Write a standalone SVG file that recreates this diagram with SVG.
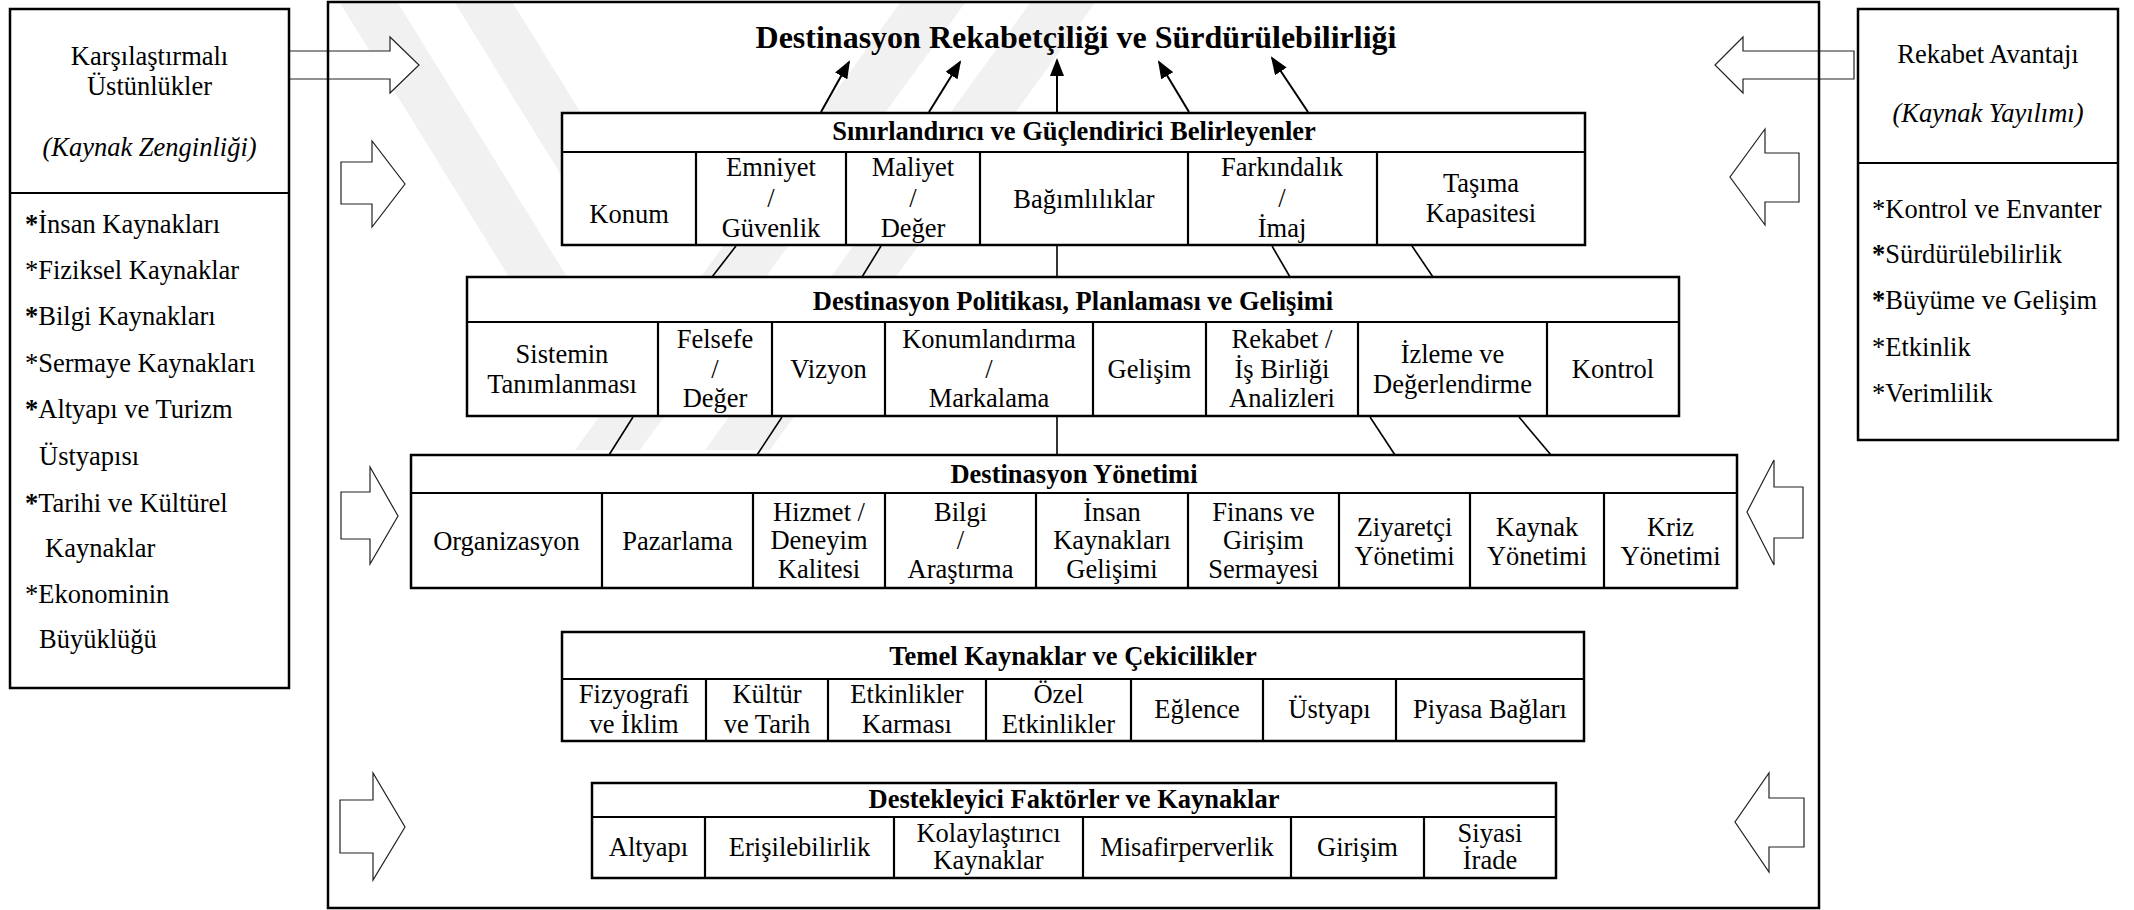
<svg xmlns="http://www.w3.org/2000/svg" width="2134" height="910" viewBox="0 0 2134 910" font-family="'Liberation Serif', 'Times New Roman', serif">
  <style>
    text { font-family: "Liberation Serif", "Times New Roman", serif; font-size: 26.5px; fill: #000; }
    .c { text-anchor: middle; }
    .b { font-weight: bold; }
    .i { font-style: italic; }
    .title { font-size: 32px; font-weight: bold; text-anchor: middle; }
    .frame { fill: #fff; stroke: #000; stroke-width: 2.5; }
    .div { stroke: #000; stroke-width: 2.2; fill: none; }
    .link { stroke: #000; stroke-width: 1.6; fill: none; }
    .up { stroke: #000; stroke-width: 2; fill: none; marker-end: url(#head); }
    .blk { fill: #fff; stroke: #222; stroke-width: 1.2; stroke-linejoin: miter; }
    .mark { fill: #f1f1f1; }
  </style>
  <defs>
    <marker id="head" markerWidth="18" markerHeight="14" refX="16" refY="7" orient="auto" markerUnits="userSpaceOnUse" viewBox="0 0 18 14">
      <path d="M0,0 L18,7 L0,14 z" fill="#000"/>
    </marker>
  </defs>

  <rect width="2134" height="910" fill="#fff"/>

  <!-- faint background emblem stripes -->
  <g id="emblem">
    <polygon class="mark" points="340,3 398,3 575,290 517,290"/>
    <polygon class="mark" points="455,3 513,3 650,225 592,225"/>
    <polygon class="mark" points="900,3 965,3 640,450 575,450"/>
    <polygon class="mark" points="1030,3 1095,3 770,450 705,450"/>
  </g>

  <!-- block arrows from the side panels -->
  <g id="side-arrows">
    <polygon class="blk" points="287,51 390,51 390,37 419,65 390,93 390,79 287,79"/>
    <polygon class="blk" points="341,162 372,162 372,141 405,184 372,227 372,204 341,204"/>
    <polygon class="blk" points="341,492 370,492 370,467 398,516 370,564 370,539 341,539"/>
    <polygon class="blk" points="340,800 373,800 373,773 405,827 373,880 373,853 340,853"/>
    <polygon class="blk" points="1854,51 1743,51 1743,37 1715,65 1743,93 1743,79 1854,79"/>
    <polygon class="blk" points="1799,153 1765,153 1765,129 1730,177 1765,225 1765,202 1799,202"/>
    <polygon class="blk" points="1803,487 1774,487 1774,460 1747,512 1774,565 1774,538 1803,538"/>
    <polygon class="blk" points="1804,798 1769,798 1769,773 1735,822 1769,872 1769,847 1804,847"/>
  </g>

  <!-- main frame -->
  <g id="frame">
    <rect x="328" y="2" width="1491" height="906" fill="none" stroke="#000" stroke-width="2.5"/>
    <text class="title" x="1076" y="48">Destinasyon Rekabetçiliği ve Sürdürülebilirliği</text>
  </g>

  <!-- left panel -->
  <g id="comparative-advantages">
    <rect class="frame" x="10" y="9" width="279" height="679"/>
    <line class="div" x1="10" y1="193" x2="289" y2="193"/>
    <text class="c" x="149.5" y="65">Karşılaştırmalı</text>
    <text class="c" x="149.5" y="95">Üstünlükler</text>
    <text class="c i" x="149.5" y="156">(Kaynak Zenginliği)</text>
    <text x="25" y="233"><tspan class="b">*</tspan>İnsan Kaynakları</text>
    <text x="25" y="279">*Fiziksel Kaynaklar</text>
    <text x="25" y="325"><tspan class="b">*</tspan>Bilgi Kaynakları</text>
    <text x="25" y="372">*Sermaye Kaynakları</text>
    <text x="25" y="418"><tspan class="b">*</tspan>Altyapı ve Turizm</text>
    <text x="39" y="465">Üstyapısı</text>
    <text x="25" y="512"><tspan class="b">*</tspan>Tarihi ve Kültürel</text>
    <text x="45" y="557">Kaynaklar</text>
    <text x="25" y="603">*Ekonominin</text>
    <text x="39" y="648">Büyüklüğü</text>
  </g>

  <!-- right panel -->
  <g id="competitive-advantage">
    <rect class="frame" x="1858" y="9" width="260" height="431"/>
    <line class="div" x1="1858" y1="163" x2="2118" y2="163"/>
    <text class="c" x="1988" y="63">Rekabet Avantajı</text>
    <text class="c i" x="1988" y="122">(Kaynak Yayılımı)</text>
    <text x="1872" y="218">*Kontrol ve Envanter</text>
    <text x="1872" y="263"><tspan class="b">*</tspan>Sürdürülebilirlik</text>
    <text x="1872" y="309"><tspan class="b">*</tspan>Büyüme ve Gelişim</text>
    <text x="1872" y="356">*Etkinlik</text>
    <text x="1872" y="402">*Verimlilik</text>
  </g>

  <!-- connectors -->
  <g id="connectors">
    <line class="up" x1="821" y1="112" x2="849" y2="62"/>
    <line class="up" x1="929" y1="112" x2="960" y2="62"/>
    <line class="up" x1="1057" y1="112" x2="1057" y2="60"/>
    <line class="up" x1="1189" y1="112" x2="1159" y2="62"/>
    <line class="up" x1="1308" y1="112" x2="1272" y2="58"/>

    <line class="link" x1="736" y1="246" x2="712" y2="277"/>
    <line class="link" x1="881" y1="246" x2="862" y2="277"/>
    <line class="link" x1="1057" y1="246" x2="1057" y2="277"/>
    <line class="link" x1="1272" y1="246" x2="1290" y2="277"/>
    <line class="link" x1="1412" y1="246" x2="1433" y2="277"/>

    <line class="link" x1="633" y1="417" x2="609" y2="455"/>
    <line class="link" x1="782" y1="417" x2="757" y2="455"/>
    <line class="link" x1="1057" y1="417" x2="1057" y2="455"/>
    <line class="link" x1="1370" y1="417" x2="1395" y2="455"/>
    <line class="link" x1="1519" y1="417" x2="1551" y2="455"/>
  </g>

  <!-- limiting and amplifying determinants -->
  <g id="determinants">
    <rect class="frame" x="562" y="113" width="1023" height="132"/>
    <path class="div" d="M562,152 H1585 M696,152 V245 M846,152 V245 M980,152 V245 M1188,152 V245 M1377,152 V245"/>
    <text class="c b" x="1074" y="140">Sınırlandırıcı ve Güçlendirici Belirleyenler</text>
    <text class="c" x="629" y="223">Konum</text>
    <text class="c" x="771" y="176">Emniyet</text>
    <text class="c" x="771" y="207">/</text>
    <text class="c" x="771" y="237">Güvenlik</text>
    <text class="c" x="913" y="176">Maliyet</text>
    <text class="c" x="913" y="207">/</text>
    <text class="c" x="913" y="237">Değer</text>
    <text class="c" x="1084" y="208">Bağımlılıklar</text>
    <text class="c" x="1282" y="176">Farkındalık</text>
    <text class="c" x="1282" y="207">/</text>
    <text class="c" x="1282" y="237">İmaj</text>
    <text class="c" x="1481" y="192">Taşıma</text>
    <text class="c" x="1481" y="222">Kapasitesi</text>
  </g>

  <!-- destination policy, planning and development -->
  <g id="policy">
    <rect class="frame" x="467" y="277" width="1212" height="139"/>
    <path class="div" d="M467,322 H1679 M658,322 V416 M772,322 V416 M885,322 V416 M1093,322 V416 M1206,322 V416 M1358,322 V416 M1547,322 V416"/>
    <text class="c b" x="1073" y="310">Destinasyon Politikası, Planlaması ve Gelişimi</text>
    <text class="c" x="562" y="363">Sistemin</text>
    <text class="c" x="562" y="393">Tanımlanması</text>
    <text class="c" x="715" y="348">Felsefe</text>
    <text class="c" x="715" y="378">/</text>
    <text class="c" x="715" y="407">Değer</text>
    <text class="c" x="828.5" y="378">Vizyon</text>
    <text class="c" x="989" y="348">Konumlandırma</text>
    <text class="c" x="989" y="378">/</text>
    <text class="c" x="989" y="407">Markalama</text>
    <text class="c" x="1149.5" y="378">Gelişim</text>
    <text class="c" x="1282" y="348">Rekabet /</text>
    <text class="c" x="1282" y="378">İş Birliği</text>
    <text class="c" x="1282" y="407">Analizleri</text>
    <text class="c" x="1452.5" y="363">İzleme ve</text>
    <text class="c" x="1452.5" y="393">Değerlendirme</text>
    <text class="c" x="1613" y="378">Kontrol</text>
  </g>

  <!-- destination management -->
  <g id="management">
    <rect class="frame" x="411" y="455" width="1326" height="133"/>
    <path class="div" d="M411,493 H1737 M602,493 V588 M753,493 V588 M885,493 V588 M1036,493 V588 M1188,493 V588 M1339,493 V588 M1470,493 V588 M1604,493 V588"/>
    <text class="c b" x="1074" y="483">Destinasyon Yönetimi</text>
    <text class="c" x="506.5" y="550">Organizasyon</text>
    <text class="c" x="677.5" y="550">Pazarlama</text>
    <text class="c" x="819" y="521">Hizmet /</text>
    <text class="c" x="819" y="549">Deneyim</text>
    <text class="c" x="819" y="578">Kalitesi</text>
    <text class="c" x="960.5" y="521">Bilgi</text>
    <text class="c" x="960.5" y="549">/</text>
    <text class="c" x="960.5" y="578">Araştırma</text>
    <text class="c" x="1112" y="521">İnsan</text>
    <text class="c" x="1112" y="549">Kaynakları</text>
    <text class="c" x="1112" y="578">Gelişimi</text>
    <text class="c" x="1263.5" y="521">Finans ve</text>
    <text class="c" x="1263.5" y="549">Girişim</text>
    <text class="c" x="1263.5" y="578">Sermayesi</text>
    <text class="c" x="1404.5" y="536">Ziyaretçi</text>
    <text class="c" x="1404.5" y="565">Yönetimi</text>
    <text class="c" x="1537" y="536">Kaynak</text>
    <text class="c" x="1537" y="565">Yönetimi</text>
    <text class="c" x="1670.5" y="536">Kriz</text>
    <text class="c" x="1670.5" y="565">Yönetimi</text>
  </g>

  <!-- core resources and attractors -->
  <g id="core-resources">
    <rect class="frame" x="562" y="632" width="1022" height="109"/>
    <path class="div" d="M562,679 H1584 M706,679 V741 M828,679 V741 M986,679 V741 M1131,679 V741 M1263,679 V741 M1396,679 V741"/>
    <text class="c b" x="1073" y="665">Temel Kaynaklar ve Çekicilikler</text>
    <text class="c" x="634" y="703">Fizyografi</text>
    <text class="c" x="634" y="733">ve İklim</text>
    <text class="c" x="767" y="703">Kültür</text>
    <text class="c" x="767" y="733">ve Tarih</text>
    <text class="c" x="907" y="703">Etkinlikler</text>
    <text class="c" x="907" y="733">Karması</text>
    <text class="c" x="1058.5" y="703">Özel</text>
    <text class="c" x="1058.5" y="733">Etkinlikler</text>
    <text class="c" x="1197" y="718">Eğlence</text>
    <text class="c" x="1329.5" y="718">Üstyapı</text>
    <text class="c" x="1490" y="718">Piyasa Bağları</text>
  </g>

  <!-- supporting factors and resources -->
  <g id="supporting-factors">
    <rect class="frame" x="592" y="783" width="964" height="95"/>
    <path class="div" d="M592,817 H1556 M705,817 V878 M894,817 V878 M1083,817 V878 M1291,817 V878 M1424,817 V878"/>
    <text class="c b" x="1074" y="808">Destekleyici Faktörler ve Kaynaklar</text>
    <text class="c" x="648.5" y="856">Altyapı</text>
    <text class="c" x="799.5" y="856">Erişilebilirlik</text>
    <text class="c" x="988.5" y="842">Kolaylaştırıcı</text>
    <text class="c" x="988.5" y="869">Kaynaklar</text>
    <text class="c" x="1187" y="856">Misafirperverlik</text>
    <text class="c" x="1357.5" y="856">Girişim</text>
    <text class="c" x="1490" y="842">Siyasi</text>
    <text class="c" x="1490" y="869">İrade</text>
  </g>
</svg>
